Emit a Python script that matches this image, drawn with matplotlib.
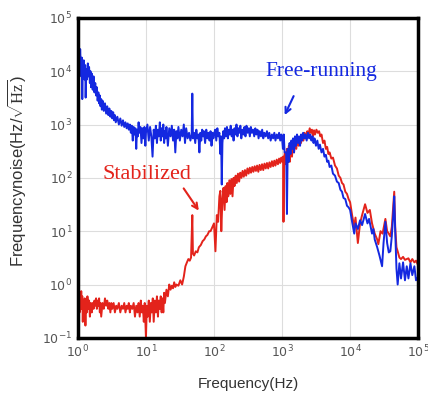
import numpy as np
import matplotlib
matplotlib.use("Agg")
import matplotlib.pyplot as plt

plt.rcParams["mathtext.fontset"] = "custom"
plt.rcParams["mathtext.rm"] = "Liberation Serif"

# Free-running spectrum (frequency in Hz, noise in Hz/sqrt(Hz))
free_f = [1.0, 1.02, 1.04, 1.06, 1.08, 1.1, 1.12, 1.14, 1.16, 1.18, 1.2, 1.22, 1.25, 1.28,
          1.3, 1.33, 1.36, 1.4, 1.43, 1.46, 1.5, 1.53, 1.56, 1.6, 1.65, 1.7, 1.75, 1.8,
          1.85, 1.9, 1.95, 2.0, 2.05, 2.1, 2.15, 2.2, 2.25, 2.3, 2.4, 2.5, 2.6, 2.7, 2.8,
          2.9, 3.0, 3.1, 3.2, 3.3, 3.4, 3.5, 3.6, 3.8, 4.0, 4.2, 4.4, 4.6, 4.8, 5.0, 5.2,
          5.4, 5.6, 5.8, 6.0, 6.2, 6.4, 6.6, 6.8, 7.0, 7.2, 7.4, 7.6, 7.8, 8.0, 8.3, 8.6,
          8.9, 9.2, 9.5, 9.8,
          10, 10.5, 11, 11.5, 12, 12.5, 13, 13.5, 14, 14.5, 15, 15.5, 16, 16.5, 17, 17.5,
          18, 18.5, 19, 19.5, 20, 21, 22, 23, 24, 25, 26, 27, 28, 29, 30, 31.5, 33, 34.5,
          36, 37.5, 39, 41, 43, 45, 47, 48, 49, 51, 53, 55, 57, 59, 61, 63, 65, 67, 69, 71,
          74, 77, 80, 83, 86, 89, 92, 95, 98,
          100, 104, 108, 112, 116, 120, 124, 127, 130, 133, 137, 141, 145, 150, 155, 160,
          165, 170, 176, 182, 188, 194, 200, 207, 214, 221, 228, 236, 244, 252, 260, 270,
          280, 290, 300, 312, 324, 336, 348, 360, 375, 390, 405, 420, 436, 452, 470, 490,
          510, 530, 550, 575, 600, 625, 650, 680, 710, 740, 770, 800, 835, 870, 905, 940,
          975, 1000, 1030, 1060, 1090, 1150, 1180, 1210, 1250, 1290, 1330, 1370, 1410,
          1450, 1500, 1550, 1600, 1660, 1720, 1780, 1840, 1900, 1970, 2040, 2120, 2200,
          2300, 2400, 2500, 2600, 2700, 2800, 2900, 3000, 3150, 3300, 3450, 3600, 3800,
          4000, 4200, 4400, 4600, 4800, 5000, 5300, 5600, 6000, 6400, 6800, 7200, 7600,
          8000, 8500, 9000, 9500,
          10000, 10700, 11500, 12000, 13000, 14000, 15000, 16600, 18000, 19000, 21000,
          22000, 23000, 25000, 27000, 29500, 31000, 33000, 35000, 37000, 39000, 41000,
          43000, 44500, 46000, 48000, 50000, 53000, 56000, 60000, 64000, 68000, 72000,
          77000, 82000, 88000, 93000, 100000]
free_v = [14000, 9000, 20000, 12000, 26000, 15000, 8000, 18000, 3000, 12000, 9000, 16000,
          7000, 13000, 3200, 11000, 7000, 14000, 8000, 12000, 6000, 10000, 5000, 9000, 4500,
          8000, 4000, 6000, 3500, 5000, 2800, 4000, 2500, 3500, 2200, 3000, 1900, 2800,
          1800, 2500, 1600, 2200, 1500, 2000, 1400, 1800, 1300, 1700, 1200, 1500, 1100,
          1400, 1000, 1300, 950, 1200, 900, 1100, 850, 1050, 800, 1000, 700, 950, 500, 900,
          650, 850, 350, 800, 600, 1100, 700, 900, 450, 850, 550, 900, 400,
          700, 1000, 500, 900, 600, 250, 800, 550, 950, 450, 800, 600, 1100, 500, 850, 600,
          1000, 450, 750, 550, 900, 400, 850, 600, 950, 500, 800, 300, 750, 550, 900, 500,
          800, 600, 1000, 450, 850, 550, 700, 500, 650, 3800, 550, 700, 450, 800, 550, 650,
          300, 700, 500, 800, 600, 750, 450, 800, 550, 700, 500, 750, 400, 700, 550,
          650, 800, 500, 850, 600, 700, 280, 600, 75, 450, 750, 550, 850, 600, 900, 550,
          800, 650, 950, 600, 800, 500, 850, 650, 1000, 600, 850, 700, 950, 550, 800, 650,
          900, 600, 950, 700, 850, 600, 900, 700, 800, 600, 850, 650, 800, 550, 750, 600,
          800, 550, 700, 600, 750, 550, 700, 500, 650, 550, 700, 500, 650, 550, 700, 500,
          650, 550, 350, 650, 300, 300, 21, 350, 200, 450, 280, 500, 350, 550, 300, 600,
          400, 650, 450, 600, 400, 650, 500, 700, 550, 650, 500, 700, 550, 650, 500, 600,
          450, 550, 400, 500, 350, 420, 300, 350, 250, 270, 200, 210, 160, 170, 120, 110,
          85, 80, 60, 55, 42, 40, 30, 28,
          25, 15, 9, 14, 11, 16, 13, 21, 14, 17, 9, 11, 7, 5, 3.5, 2.2, 6, 15, 6, 4, 4.2,
          8, 20, 45, 10, 2, 1.0, 2.5, 1.3, 2.6, 1.2, 2.2, 1.3, 2.5, 1.5, 2.2, 1.2, 1.4]

# Stabilized spectrum
stab_f = [1.0, 1.02, 1.04, 1.06, 1.08, 1.1, 1.12, 1.14, 1.16, 1.18, 1.2, 1.23, 1.26, 1.29,
          1.32, 1.35, 1.38, 1.42, 1.46, 1.5, 1.55, 1.6, 1.65, 1.7, 1.75, 1.8, 1.85, 1.9,
          1.95, 2.0, 2.05, 2.1, 2.15, 2.2, 2.3, 2.4, 2.5, 2.6, 2.7, 2.8, 2.9, 3.0, 3.1,
          3.2, 3.35, 3.5, 3.65, 3.8, 4.0, 4.2, 4.4, 4.6, 4.8, 5.0, 5.2, 5.4, 5.6, 5.8, 6.0,
          6.3, 6.6, 6.9, 7.2, 7.5, 7.8, 8.1, 8.4, 8.7, 9.0, 9.3, 9.6,
          10, 10.3, 10.6, 11, 11.4, 11.8, 12.2, 12.6, 13, 13.5, 14, 14.5, 15, 15.5, 16,
          16.5, 17, 17.5, 18, 18.5, 19, 20, 21, 22, 23, 24, 25, 26, 27, 28, 30, 32, 34, 36,
          38, 40, 42, 44, 46, 48, 49, 51, 54, 57, 60, 64, 68, 72, 76, 80, 85, 89, 95,
          100, 105, 110, 115, 120, 124, 128, 133, 138, 143, 148, 153, 157, 162, 168, 174,
          180, 187, 194, 200, 208, 216, 225, 234, 243, 253, 263, 274, 285, 297, 310, 323,
          336, 350, 365, 380, 396, 413, 430, 448, 467, 487, 508, 530, 552, 576, 600, 626,
          652, 680, 710, 740, 770, 800, 835, 870, 905, 940, 975, 1010, 1040, 1050, 1065,
          1100, 1140, 1180, 1220, 1260, 1300, 1350, 1400, 1450, 1500, 1560, 1620, 1680,
          1750, 1820, 1900, 1980, 2060, 2150, 2250, 2350, 2450, 2550, 2650, 2750, 2850,
          2950, 3050, 3200, 3350, 3500, 3650, 3800, 4000, 4200, 4400, 4600, 4800, 5000,
          5300, 5600, 6000, 6400, 6800, 7200, 7600, 8000, 8500, 9000, 9500,
          10000, 10700, 11500, 12000, 13000, 14000, 15000, 16600, 18000, 19500, 21000,
          23000, 25000, 26000, 28000, 30000, 33000, 35000, 37000, 39000, 41000, 43000,
          44500, 46000, 48000, 50000, 53000, 56000, 60000, 64000, 68000, 72000, 77000,
          82000, 88000, 93000, 100000]
stab_v = [0.12, 0.25, 0.4, 0.3, 0.7, 0.45, 0.75, 0.35, 0.6, 0.2, 0.5, 0.35, 0.55, 0.17,
          0.5, 0.3, 0.6, 0.35, 0.5, 0.25, 0.45, 0.3, 0.45, 0.35, 0.5, 0.4, 0.55, 0.35, 0.5,
          0.4, 0.55, 0.3, 0.45, 0.25, 0.45, 0.35, 0.55, 0.4, 0.5, 0.35, 0.45, 0.3, 0.45,
          0.35, 0.45, 0.3, 0.4, 0.35, 0.45, 0.3, 0.4, 0.35, 0.45, 0.3, 0.4, 0.35, 0.45,
          0.3, 0.4, 0.35, 0.45, 0.25, 0.4, 0.3, 0.45, 0.25, 0.5, 0.3, 0.4, 0.2, 0.45,
          0.1, 0.4, 0.25, 0.5, 0.2, 0.45, 0.3, 0.55, 0.2, 0.5, 0.3, 0.6, 0.25, 0.5, 0.35,
          0.6, 0.3, 0.55, 0.3, 0.7, 0.45, 0.8, 0.6, 1.0, 0.8, 0.95, 0.85, 1.1, 0.9, 1.0,
          0.95, 1.2, 1.0, 1.4, 2.2, 2.6, 3.0, 2.8, 3.2, 20, 3.8, 3.5, 4.2, 4.0, 5.0, 5.5,
          6.5, 7.0, 8.0, 8.5, 10, 10, 12,
          14, 4.2, 20, 15, 45, 57, 10, 40, 65, 25, 70, 35, 80, 45, 90, 50, 95, 45, 100, 70,
          110, 80, 120, 85, 125, 100, 135, 105, 140, 110, 150, 120, 155, 125, 160, 130,
          165, 135, 170, 130, 175, 140, 180, 140, 185, 150, 190, 150, 195, 160, 205, 165,
          210, 170, 220, 180, 230, 190, 240, 200, 250, 15, 220, 300, 180, 350, 250, 400,
          200, 450, 250, 500, 300, 550, 350, 600, 400, 550, 450, 650, 500, 700, 550, 750,
          650, 850, 700, 800, 600, 780, 650, 800, 700, 750, 600, 650, 450, 500, 350, 380,
          280, 300, 230, 240, 170, 150, 110, 100, 80, 75, 55, 50, 40,
          35, 20, 12, 18, 6, 14, 20, 32, 22, 25, 14, 9, 7, 5.7, 10, 9, 17, 10, 9, 8, 12,
          30, 55, 12, 5, 4.2, 3.2, 3.0, 3.3, 2.9, 3.0, 3.1, 2.6, 3.0, 2.6, 2.8, 2.3]

blue = "#1428e0"
red = "#e3231b"

fig = plt.figure(figsize=(4.28, 3.97), dpi=100)
ax = fig.add_axes([0.182, 0.149, 0.795, 0.806])

ax.plot(stab_f, stab_v, color=red, lw=1.4)
ax.plot(free_f, free_v, color=blue, lw=1.4)

ax.set_xscale("log")
ax.set_yscale("log")
ax.set_xlim(1, 1e5)
ax.set_ylim(1e-1, 1e5)
ax.set_xticks([1, 10, 100, 1e3, 1e4, 1e5])
ax.set_yticks([1e-1, 1, 10, 100, 1e3, 1e4, 1e5])
ax.minorticks_off()
ax.grid(True, color="#dddddd", lw=0.8)
ax.tick_params(length=0, pad=4, labelsize=9, labelcolor="#555555")
for s in ax.spines.values():
    s.set_linewidth(2.5)

ax.set_xlabel("Frequency(Hz)", fontsize=11, color="#333333", family="Liberation Sans", labelpad=12)
ax.set_ylabel(r"Frequencynoise(Hz/$\sqrt{\mathrm{Hz}}$)", fontsize=12, color="#333333",
              family="Liberation Sans")
ax.yaxis.set_label_coords(-0.148, 0.52)

ax.text(575, 8300, "Free-running", color=blue, fontsize=15.5, family="Liberation Serif")
ax.annotate("", xy=(1.05e3, 1.35e3), xytext=(1.54e3, 3.8e3),
            arrowprops=dict(arrowstyle="->", color=blue, lw=1.5))
ax.text(2.33, 96, "Stabilized", color=red, fontsize=16, family="Liberation Serif")
ax.annotate("", xy=(63, 22), xytext=(34, 70),
            arrowprops=dict(arrowstyle="->", color=red, lw=1.5))

fig.savefig("out.png", dpi=100)
